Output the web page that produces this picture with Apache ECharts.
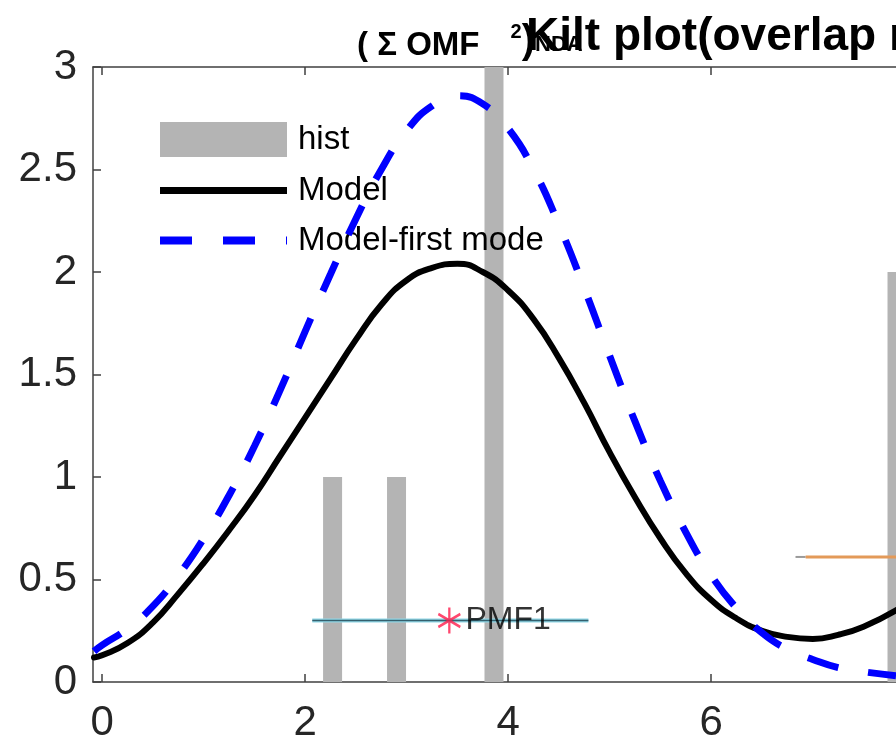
<!DOCTYPE html>
<html>
<head>
<meta charset="utf-8">
<script src="https://cdn.jsdelivr.net/npm/echarts@6/dist/echarts.min.js"></script>
<style>html,body{margin:0;padding:0;background:#fff}#c{width:896px;height:744px}</style>
</head>
<body>
<div id="c"></div>
<script>
// ---- data ----
const xGrid = [-0.08, 0, 0.25, 0.5, 0.75, 1, 1.25, 1.5, 1.75, 2, 2.25, 2.5, 2.75, 3, 3.25, 3.5, 3.75, 4, 4.25, 4.5, 4.75, 5, 5.25, 5.5, 5.75, 6, 6.25, 6.5, 6.75, 7, 7.25, 7.5, 7.82];
const modelY = [0.12, 0.13, 0.19, 0.29, 0.43, 0.58, 0.74, 0.91, 1.10, 1.29, 1.48, 1.67, 1.84, 1.96, 2.02, 2.04, 2.00, 1.91, 1.77, 1.58, 1.36, 1.12, 0.90, 0.70, 0.53, 0.40, 0.31, 0.25, 0.22, 0.21, 0.23, 0.27, 0.35];
const firstModeY = [0.15, 0.18, 0.26, 0.37, 0.52, 0.70, 0.91, 1.15, 1.42, 1.71, 1.99, 2.26, 2.50, 2.69, 2.81, 2.86, 2.82, 2.70, 2.50, 2.23, 1.92, 1.59, 1.27, 0.98, 0.73, 0.52, 0.36, 0.24, 0.16, 0.11, 0.07, 0.05, 0.03];
const histX = [2.27, 2.90, 3.86, 7.83];
const histY = [1, 1, 3.2, 2];
const pmf1X = [3.42];
const pmf1Y = [0.3];
const pmf1Range = [2.07, 4.79];
const pmf2Y = [0.61];
const pmf2Range = [6.93, 8.5];
const pmf2Stub = [6.83, 6.93];
const xTicks = [0, 2, 4, 6];
const yTicks = [0, 0.5, 1, 1.5, 2, 2.5, 3];

const pairs = (xs, ys) => xs.map((x, i) => [x, ys[i]]);
const axisCol = '#404040';
const txtCol = '#262626';
const font = 'Liberation Sans, Arial, sans-serif';

const chart = echarts.init(document.getElementById('c'), null, {renderer: 'canvas'});
chart.setOption({
  animation: false,
  backgroundColor: '#fff',
  textStyle: {fontFamily: font},
  title: [
    {
      text: '{a|( Σ OMF }{sup|2}{b|)}{sub|NDA}',
      left: 357, top: 16, padding: 0, z: 1,
      textStyle: {
        rich: {
          a: {fontSize: 33, fontWeight: 'bold', color: '#000', fontFamily: font, lineHeight: 46, verticalAlign: 'bottom'},
          sup: {fontSize: 20, fontWeight: 'bold', color: '#000', fontFamily: font, lineHeight: 46, verticalAlign: 'top', padding: [6, 0, 0, 22]},
          b: {fontSize: 40, fontWeight: 'bold', color: '#000', fontFamily: font, lineHeight: 46, verticalAlign: 'bottom'},
          sub: {fontSize: 22, fontWeight: 'bold', color: '#000', fontFamily: font, lineHeight: 46, verticalAlign: 'bottom', padding: [0, 0, 6, 0]}
        }
      }
    },
    {
      text: 'Kilt plot(overlap ratio)',
      left: 526, top: 14, padding: 0, z: 2,
      textStyle: {fontSize: 46, fontWeight: 'bold', color: '#000', fontFamily: font}
    }
  ],
  legend: [
    {data: ['hist'], left: 160, top: 122, padding: 0, orient: 'vertical', itemWidth: 127, itemHeight: 35, icon: 'rect', symbolKeepAspect: false, selectedMode: false,
     textStyle: {fontSize: 33, color: '#000', fontFamily: font, padding: [0, 0, 0, 6]}},
    {data: ['Model'], left: 160, top: 174, padding: 0, orient: 'vertical', itemWidth: 127, itemHeight: 7, icon: 'path://M0,0H10V1H0Z', symbolKeepAspect: false, selectedMode: false,
     textStyle: {fontSize: 33, color: '#000', fontFamily: font, padding: [0, 0, 0, 6]}},
    {data: ['Model-first mode'], left: 160, top: 224, padding: 0, orient: 'vertical', itemWidth: 127, itemHeight: 8, icon: 'path://M0,0H32V1H0Z M63,0H95V1H63Z M126,0H127V1H126Z', symbolKeepAspect: false, selectedMode: false,
     textStyle: {fontSize: 33, color: '#000', fontFamily: font, padding: [0, 0, 0, 6]}}
  ],
  grid: {left: 93, right: 0, top: 67, bottom: 61, containLabel: false},
  xAxis: [
    {
      type: 'value', min: -0.09, max: 7.82, position: 'bottom',
      axisLine: {show: true, onZero: false, lineStyle: {color: axisCol, width: 1.5}},
      axisTick: {show: true, inside: true, length: 8, customValues: xTicks, lineStyle: {color: axisCol, width: 1.5}},
      axisLabel: {show: true, customValues: xTicks, fontSize: 42, color: txtCol, margin: 20, fontFamily: font},
      splitLine: {show: false}
    },
    {
      type: 'value', min: -0.09, max: 7.82, position: 'top',
      axisLine: {show: true, onZero: false, lineStyle: {color: axisCol, width: 1.5}},
      axisTick: {show: true, inside: true, length: 8, customValues: xTicks, lineStyle: {color: axisCol, width: 1.5}},
      axisLabel: {show: false},
      splitLine: {show: false}
    }
  ],
  yAxis: {
    type: 'value', min: 0, max: 3, interval: 0.5,
    axisLine: {show: true, onZero: false, lineStyle: {color: axisCol, width: 1.5}},
    axisTick: {show: true, inside: true, length: 8, lineStyle: {color: axisCol, width: 1.5}},
    axisLabel: {fontSize: 42, color: txtCol, margin: 16, fontFamily: font,
      formatter: v => (yTicks.indexOf(v) >= 0 ? String(v) : '')},
    splitLine: {show: false}
  },
  series: [
    {
      name: 'hist', type: 'bar', xAxisIndex: 0, barWidth: 19, clip: true, z: 1,
      itemStyle: {color: '#b4b4b4'},
      data: pairs(histX, histY)
    },
    {
      name: 'PMF1 band', type: 'line', symbol: 'none', z: 2, silent: true,
      lineStyle: {color: '#8fd6e6', width: 4},
      data: pairs(pmf1Range, [pmf1Y[0], pmf1Y[0]])
    },
    {
      name: 'PMF1 line', type: 'line', symbol: 'none', z: 3, silent: true,
      lineStyle: {color: '#35606e', width: 1.5},
      data: pairs(pmf1Range, [pmf1Y[0], pmf1Y[0]])
    },
    {
      name: 'PMF2 stub', type: 'line', symbol: 'none', z: 2, silent: true,
      lineStyle: {color: '#9a9a9a', width: 2},
      data: pairs(pmf2Stub, [pmf2Y[0], pmf2Y[0]])
    },
    {
      name: 'PMF2 line', type: 'line', symbol: 'none', z: 2, silent: true, clip: true,
      lineStyle: {color: '#e39a59', width: 3},
      data: pairs(pmf2Range, [pmf2Y[0], pmf2Y[0]])
    },
    {
      name: 'Model', type: 'line', symbol: 'none', smooth: 0.5, z: 4,
      color: '#000',
      lineStyle: {color: '#000', width: 6, cap: 'round', join: 'round'},
      data: pairs(xGrid, modelY)
    },
    {
      name: 'Model-first mode', type: 'line', symbol: 'none', smooth: 0.5, z: 5,
      color: '#0000ff',
      lineStyle: {color: '#0000ff', width: 7, type: [32, 30], cap: 'butt'},
      data: pairs(xGrid, firstModeY)
    },
    {
      name: 'PMF1', type: 'scatter', z: 6, silent: true,
      symbol: 'path://M0,-10L0,10M-8.66,-5L8.66,5M-8.66,5L8.66,-5',
      symbolSize: [22, 26],
      itemStyle: {color: 'rgba(0,0,0,0)', borderColor: '#ff1a4a', borderWidth: 2.5},
      label: {show: true, position: 'right', distance: 4, formatter: 'PMF1', fontSize: 32, color: '#000', fontFamily: font},
      data: pairs(pmf1X, pmf1Y)
    }
  ]
});
</script>
</body>
</html>
